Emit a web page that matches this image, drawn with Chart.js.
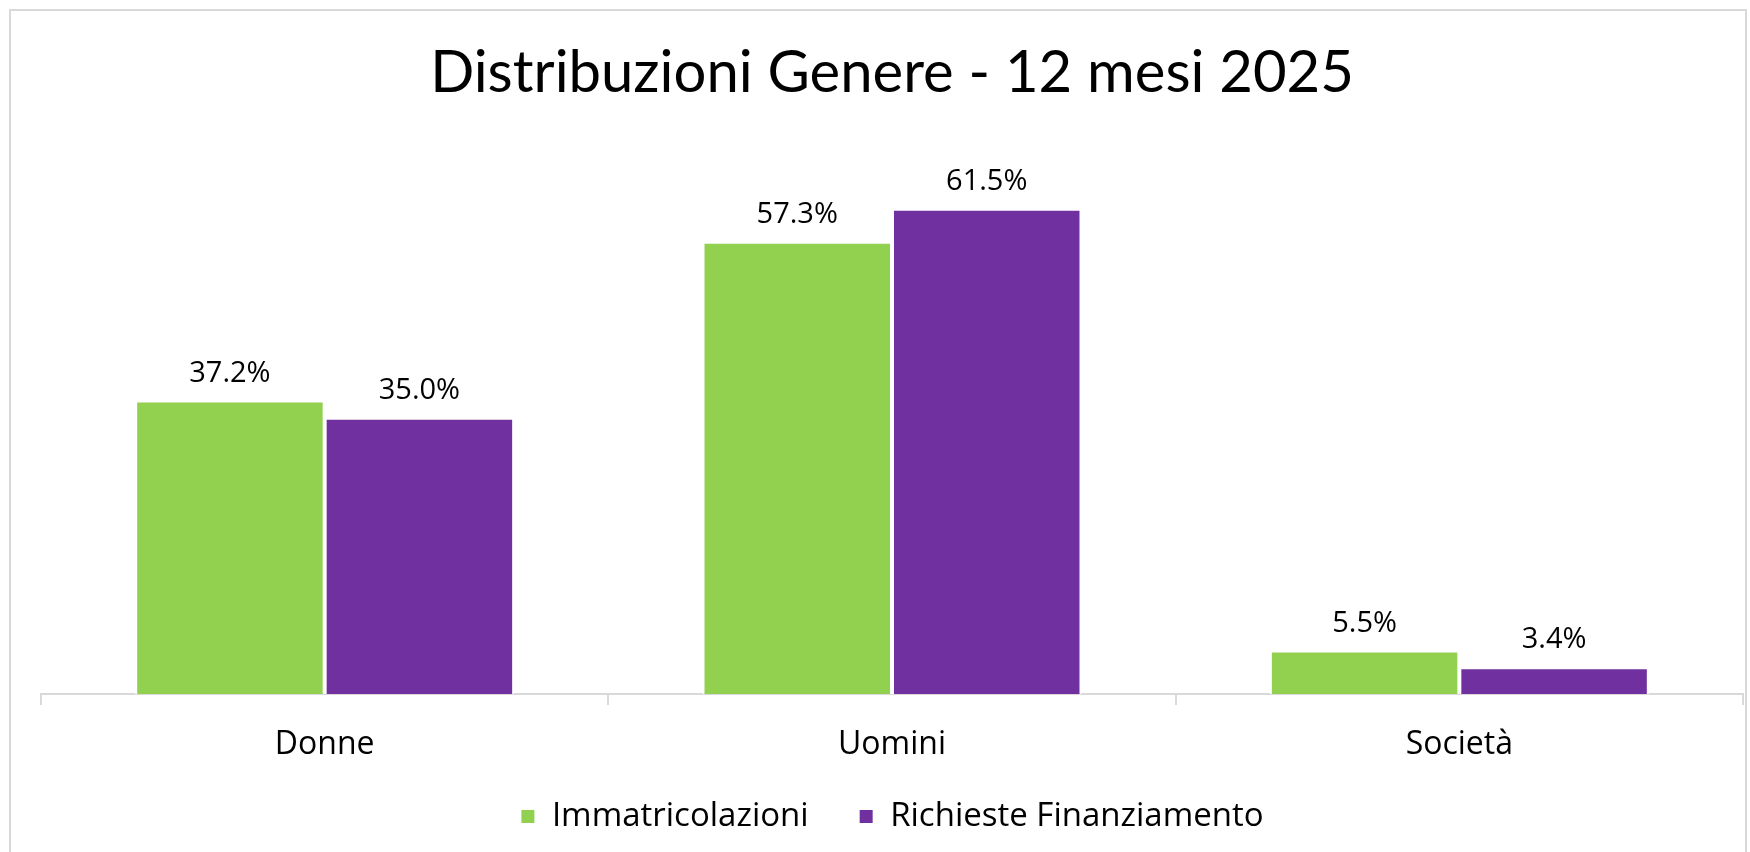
<!DOCTYPE html>
<html>
<head>
<meta charset="utf-8">
<script src="https://cdn.jsdelivr.net/npm/chart.js@4.4.1/dist/chart.umd.min.js"></script>
<style>
  body { margin: 0; background: #fff; }
  canvas { display: block; }
</style>
</head>
<body>
<canvas id="genereChart" width="1750" height="852"></canvas>
<script>
// Chart data
const categories = ["Donne", "Uomini", "Società"]
const immatricolazioni = [37.2, 57.3, 5.5]
const richieste = [35.0, 61.5, 3.4]
const seriesNames = ["Immatricolazioni", "Richieste Finanziamento"]

const titleFont = "Lato, sans-serif"
const labelFont = "'Open Sans', sans-serif"

// Light grey frame around the chart, like the spreadsheet chart box
const framePlugin = {
  id: 'frame',
  beforeDraw(chart) {
    const ctx = chart.ctx
    ctx.save()
    ctx.fillStyle = '#fff'
    ctx.fillRect(0, 0, chart.width, chart.height)
    ctx.strokeStyle = '#d9d9d9'
    ctx.lineWidth = 2
    ctx.strokeRect(10, 10, chart.width - 14, chart.height + 20)
    ctx.restore()
  },
  // the x axis box is kept short, so let its labels draw below it
  afterLayout(chart) {
    chart.scales.x.bottom = chart.height
  }
}

// Percent labels above every bar
const valueLabels = {
  id: 'valueLabels',
  afterDatasetsDraw(chart) {
    const ctx = chart.ctx
    ctx.save()
    ctx.font = "29px " + labelFont
    ctx.fillStyle = '#000'
    ctx.textAlign = 'center'
    ctx.textBaseline = 'middle'
    chart.data.datasets.forEach((ds, i) => {
      chart.getDatasetMeta(i).data.forEach((bar, j) => {
        ctx.fillText(ds.data[j].toFixed(1) + '%', bar.x, bar.y - 27)
      })
    })
    ctx.restore()
  }
}

let config = {
  type: 'bar',
  data: {
    labels: categories,
    datasets: [{
      label: seriesNames[0],
      data: immatricolazioni,
      backgroundColor: '#92D050',
      borderColor: '#ffffff',
      borderWidth: 2,
      borderSkipped: 'bottom'
    }, {
      label: seriesNames[1],
      data: richieste,
      backgroundColor: '#7030A0',
      borderColor: '#ffffff',
      borderWidth: 2,
      borderSkipped: 'bottom'
    }]
  },
  options: {
    responsive: false,
    animation: false,
    layout: {
      padding: { left: 41, right: 7, top: 28, bottom: 9 }
    },
    datasets: {
      bar: { categoryPercentage: 0.668, barPercentage: 1.0 }
    },
    scales: {
      x: {
        grid: {
          offset: true,
          drawOnChartArea: false,
          drawTicks: true,
          tickLength: 11,
          color: '#d9d9d9',
          lineWidth: 2
        },
        border: { display: true, color: '#d9d9d9', width: 2 },
        ticks: {
          color: '#000',
          padding: 21,
          font: { family: labelFont, size: 32 }
        },
        // keep the axis box short so the legend sits close underneath
        afterFit(scale) {
          scale.height = 56
        }
      },
      y: {
        display: false,
        min: 0,
        max: 70
      }
    },
    plugins: {
      title: {
        display: true,
        text: 'Distribuzioni Genere - 12 mesi 2025',
        color: '#000',
        font: { family: titleFont, size: 58, weight: 'normal' },
        padding: { top: 10, bottom: 34 }
      },
      legend: {
        position: 'bottom',
        labels: {
          color: '#000',
          font: { family: labelFont, size: 33 },
          boxWidth: 15,
          boxHeight: 15,
          padding: 50
        }
      },
      tooltip: { enabled: false }
    }
  },
  plugins: [framePlugin, valueLabels]
}

new Chart('genereChart', config)
</script>
</body>
</html>
